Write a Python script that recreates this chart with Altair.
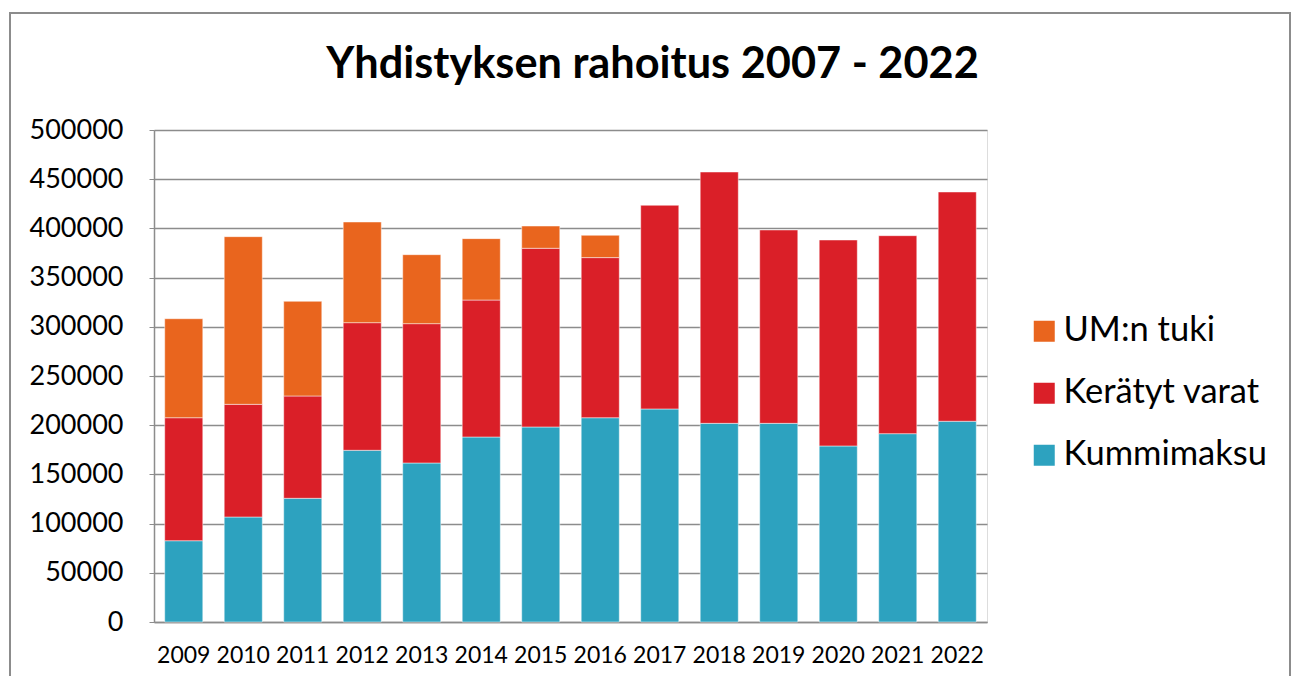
import altair as alt
import pandas as pd

years = ["2009", "2010", "2011", "2012", "2013", "2014", "2015", "2016",
         "2017", "2018", "2019", "2020", "2021", "2022"]
kummimaksu = [82600, 106700, 125700, 174500, 161600, 188000, 198200, 207600,
              216500, 201900, 201900, 178900, 191400, 204000]
keratyt_varat = [125000, 114500, 104000, 129700, 141600, 139200, 181600, 162700,
                 207000, 255400, 196500, 209300, 201200, 233000]
um_tuki = [100600, 170400, 96200, 102300, 70100, 62400, 22600, 22700,
           0, 0, 0, 0, 0, 0]

series = ["UM:n tuki", "Kerätyt varat", "Kummimaksu"]
colors = ["#E9651E", "#DA1F28", "#2DA2BF"]
stack_rank = {"Kummimaksu": 0, "Kerätyt varat": 1, "UM:n tuki": 2}

rows = []
for name, vals in [("Kummimaksu", kummimaksu), ("Kerätyt varat", keratyt_varat),
                   ("UM:n tuki", um_tuki)]:
    for y, v in zip(years, vals):
        if v > 0:
            rows.append({"Vuosi": y, "Sarja": name, "Arvo": v, "rank": stack_rank[name]})
df = pd.DataFrame(rows)

FONT = "Lato"

bars = alt.Chart(df).mark_bar(stroke="white", strokeWidth=0.8, strokeOpacity=0.6).encode(
    x=alt.X("Vuosi:N", sort=years,
            scale=alt.Scale(paddingInner=0.36, paddingOuter=0.18),
            axis=alt.Axis(title=None, labelAngle=0, labelFontSize=23, labelFont=FONT,
                          labelColor="black", ticks=False, labelPadding=22,
                          domainColor="#8C8C8C", domainWidth=1.5)),
    y=alt.Y("Arvo:Q", stack="zero",
            scale=alt.Scale(domain=[0, 500000], nice=False),
            axis=alt.Axis(title=None, values=list(range(0, 500001, 50000)), format="d",
                          labelFontSize=27, labelFont=FONT, labelColor="black",
                          tickSize=5, tickColor="#8C8C8C", labelPadding=26,
                          gridColor="#8C8C8C", gridWidth=1.5,
                          domainColor="#8C8C8C", domainWidth=1.5)),
    color=alt.Color("Sarja:N", scale=alt.Scale(domain=series, range=colors),
                    legend=alt.Legend(title=None, orient="none", legendX=873, legendY=184,
                                      symbolType="square", symbolSize=441,
                                      symbolStrokeWidth=0, labelFontSize=34.5,
                                      labelFont=FONT, labelColor="black", labelLimit=400,
                                      labelOffset=2, rowPadding=27, padding=0)),
    order=alt.Order("rank:Q", sort="ascending"),
)

frame = alt.Chart(pd.DataFrame({"k": [0]})).mark_rect(
    fill=None, stroke="#8C8C8C", strokeWidth=2
).encode(
    x=alt.value(-144), x2=alt.value(1136),
    y=alt.value(-117), y2=alt.value(600),
)

chart = alt.layer(frame, bars).properties(
    width=833, height=492,
    title=alt.TitleParams("Yhdistyksen rahoitus 2007 - 2022", fontSize=43.3, font=FONT,
                          fontWeight="bold", color="black", anchor="middle",
                          dx=82, offset=-75),
    autosize=alt.AutoSizeParams(type="none"),
    padding={"left": 154, "top": 130, "right": 308, "bottom": 54},
).configure_view(stroke=None).configure(background="white")

chart.save("out.html", embed_options={"renderer": "svg", "actions": False})
